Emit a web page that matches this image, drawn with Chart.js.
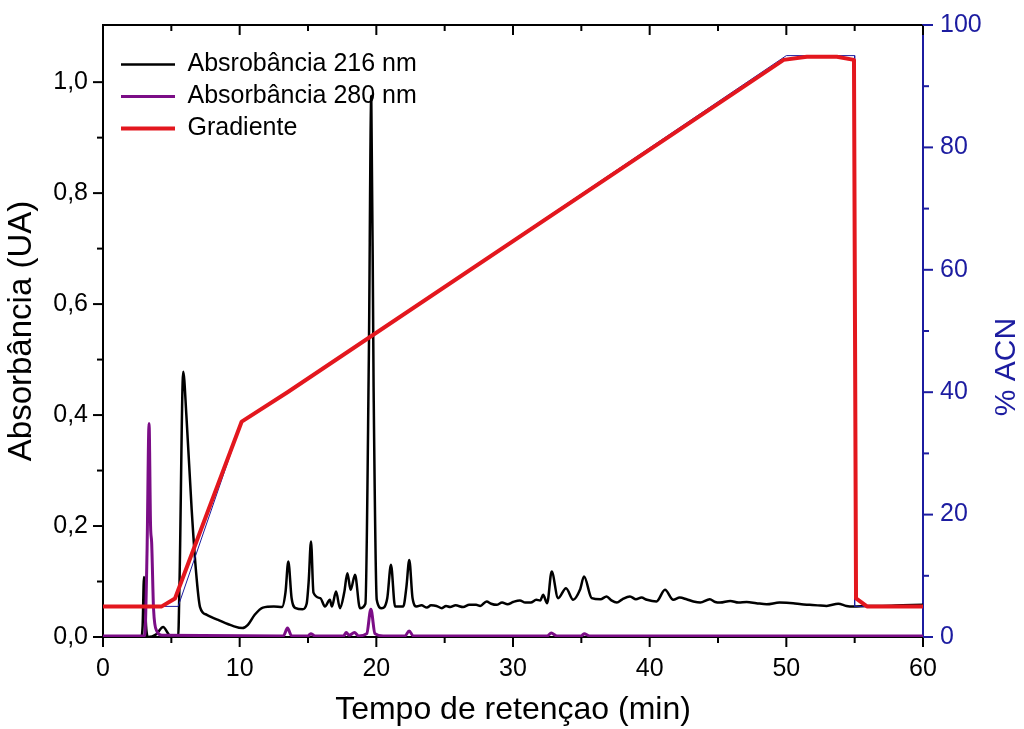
<!DOCTYPE html>
<html lang="pt">
<head>
<meta charset="utf-8">
<title>Cromatograma</title>
<script src="https://cdn.jsdelivr.net/npm/chart.js@4.4.1/dist/chart.umd.min.js"></script>
<style>
  html, body { margin: 0; padding: 0; background: #fff; }
  #chartBox { width: 1024px; height: 729px; }
</style>
</head>
<body>
<div id="chartBox"><canvas id="hplcChart" width="1024" height="729"></canvas></div>
<script>
// Values
const time216 = [0, 2.8, 2.9, 3.0, 3.15, 3.3, 3.9, 4.4, 4.8, 5.0, 5.5, 5.6, 5.87, 6.1, 6.49, 6.8, 7.1, 7.6, 8.5, 9.5,
  10.2, 10.6, 11.1, 11.7, 12.5, 13.1, 13.35, 13.56, 13.8, 14.1, 14.6, 14.9, 15.05, 15.22, 15.4, 15.9, 16.24, 16.6, 16.75,
  17.05, 17.34, 17.65, 17.88, 18.12, 18.44, 18.8, 19.2, 19.45, 19.63, 19.8, 20.03, 20.39, 20.8, 21.07, 21.37, 21.97,
  22.2, 22.41, 22.65, 22.95, 23.3, 23.7, 24.0, 24.4, 24.8, 25.1, 25.4, 25.8, 26.35, 26.8, 27.3, 27.6, 28.07, 28.4, 28.8,
  29.2, 29.6, 30.0, 30.5, 30.9, 31.3, 31.7, 32.0, 32.2, 32.5, 32.83,
  33.3, 33.88, 34.4, 34.9, 35.2, 35.76, 36.4, 36.85, 37.2, 37.6, 38.0, 38.56, 39.0, 39.4, 39.8, 40.5, 41.12, 41.73, 42.2,
  42.7, 43.2, 43.7, 44.4, 44.8, 45.15, 45.9, 46.5, 47.1, 47.8, 48.56, 49.5, 50.5, 51.1, 51.7, 52.3, 52.95, 53.8, 54.4,
  54.9, 56, 57, 58.5, 60];
const abs216 = [0, 0, 0.02, 0.108, 0.02, 0, 0.005, 0.018, 0.005, 0, 0, 0.1, 0.478, 0.40, 0.229, 0.12, 0.054, 0.04, 0.03, 0.02,
  0.016, 0.022, 0.04, 0.053, 0.055, 0.054, 0.08, 0.136, 0.07, 0.052, 0.05, 0.06, 0.10, 0.172, 0.08, 0.07, 0.055, 0.067, 0.055,
  0.082, 0.052, 0.08, 0.115, 0.085, 0.112, 0.052, 0.06, 0.5, 0.975, 0.45, 0.067, 0.052, 0.07, 0.13, 0.055, 0.055,
  0.09, 0.139, 0.07, 0.055, 0.057, 0.053, 0.057, 0.056, 0.052, 0.056, 0.054, 0.057, 0.054, 0.058, 0.058, 0.056, 0.064, 0.06, 0.058,
  0.062, 0.059, 0.063, 0.066, 0.062, 0.062, 0.067, 0.066, 0.076, 0.061, 0.118,
  0.07, 0.088, 0.067, 0.085, 0.109, 0.07, 0.068, 0.073, 0.066, 0.062, 0.068, 0.073, 0.068, 0.071, 0.067, 0.064, 0.085, 0.067, 0.071,
  0.068, 0.064, 0.062, 0.068, 0.063, 0.062, 0.065, 0.062, 0.063, 0.061, 0.059, 0.062, 0.061, 0.059, 0.058, 0.057, 0.056, 0.06, 0.056,
  0.055, 0.056, 0.056, 0.057, 0.058];

const time280 = [0, 3.05, 3.22, 3.37, 3.48, 3.56, 3.7, 3.95, 4.3, 13.2, 13.5, 13.8, 15.0, 15.2, 15.5, 17.6, 17.8, 18.0,
  18.4, 18.7, 19.3, 19.6, 19.9, 20.5, 22.1, 22.4, 22.7, 32.5, 32.8, 33.2, 35.0, 35.2, 35.6, 60];
const abs280 = [0.002, 0.002, 0.15, 0.385, 0.2, 0.17, 0.05, 0.01, 0.003, 0.002, 0.016, 0.002, 0.002, 0.006, 0.002, 0.002, 0.008, 0.003,
  0.008, 0.002, 0.006, 0.05, 0.006, 0.002, 0.002, 0.011, 0.002, 0.002, 0.007, 0.002, 0.002, 0.006, 0.002, 0.002];

const timeGrad = [0, 4.3, 5.27, 10.15, 13.5, 49.8, 51.5, 53.7, 54.95, 55.1, 55.9, 60];
const acnGrad = [5, 5, 6.3, 35.2, 40, 94.3, 94.8, 94.8, 94.3, 6.3, 5, 5];

// programmed gradient, mostly hidden under the red trace
const timeProg = [0, 5.5, 10.15, 13.5, 50, 55, 55, 60];
const acnProg = [5, 5, 35.2, 40, 95, 95, 5, 5];

const xTickLabels = [0, 10, 20, 30, 40, 50, 60];
const absTickLabels = [0, 0.2, 0.4, 0.6, 0.8, 1.0];
const acnTickLabels = [0, 20, 40, 60, 80, 100];

const FONT = "'Liberation Sans', Arial, sans-serif";
const ACN_BLUE = '#1c1ca0';

const toPoints = (xs, ys) => xs.map((x, i) => ({ x: x, y: ys[i] }));
const midpoints = arr => arr.slice(1).map((v, i) => (v + arr[i]) / 2);
const fixedTicks = values => scale => { scale.ticks = values.map(v => ({ value: v })); };

// ticks (major + minor) and the right-hand title, Origin style
const axisDecor = {
    id: 'axisDecor',
    afterLayout(chart) {
        // move the legend into the upper-left corner
        chart.legend.left += 11;
        chart.legend.top += 45;
    },
    afterDraw(chart) {
        const { ctx, chartArea: area, scales } = chart;
        const line = (x1, y1, x2, y2) => {
            ctx.beginPath();
            ctx.moveTo(x1, y1);
            ctx.lineTo(x2, y2);
            ctx.stroke();
        };
        ctx.save();
        ctx.lineWidth = 2;
        ctx.strokeStyle = '#000';
        xTickLabels.forEach(v => {
            const px = scales.x.getPixelForValue(v);
            line(px, area.bottom, px, area.bottom + 10);
            line(px, area.top, px, area.top + 10);
        });
        midpoints(xTickLabels).forEach(v => {
            const px = scales.x.getPixelForValue(v);
            line(px, area.bottom, px, area.bottom + 6);
            line(px, area.top, px, area.top + 6);
        });
        absTickLabels.forEach(v => {
            const py = scales.y.getPixelForValue(v);
            line(area.left - 10, py, area.left, py);
        });
        midpoints(absTickLabels).forEach(v => {
            const py = scales.y.getPixelForValue(v);
            line(area.left - 6, py, area.left, py);
        });
        ctx.strokeStyle = ACN_BLUE;
        acnTickLabels.forEach(v => {
            const py = scales.y1.getPixelForValue(v);
            line(area.right, py, area.right + 10, py);
        });
        midpoints(acnTickLabels).forEach(v => {
            const py = scales.y1.getPixelForValue(v);
            line(area.right, py, area.right + 6, py);
        });

        ctx.translate(area.right + 84, (area.top + area.bottom) / 2 + 36);
        ctx.rotate(-Math.PI / 2);
        ctx.fillStyle = ACN_BLUE;
        ctx.font = '30px ' + FONT;
        ctx.textAlign = 'center';
        ctx.textBaseline = 'middle';
        ctx.fillText('% ACN', 0, 0);
        ctx.restore();
    }
};

function createChart() {
    const ctx = document.getElementById('hplcChart').getContext('2d');
    return new Chart(ctx, {
        type: 'line',
        data: {
            datasets: [
                {
                    label: 'Gradiente',
                    data: toPoints(timeGrad, acnGrad),
                    yAxisID: 'y1',
                    borderColor: '#e3171e',
                    borderWidth: 4,
                    borderJoinStyle: 'round',
                    pointRadius: 0,
                    tension: 0
                },
                {
                    label: 'programa',
                    data: toPoints(timeProg, acnProg),
                    yAxisID: 'y1',
                    borderColor: ACN_BLUE,
                    borderWidth: 1,
                    pointRadius: 0,
                    tension: 0
                },
                {
                    label: 'Absorbância 280 nm',
                    data: toPoints(time280, abs280),
                    yAxisID: 'y',
                    borderColor: '#7b0d86',
                    borderWidth: 3,
                    pointRadius: 0,
                    cubicInterpolationMode: 'monotone'
                },
                {
                    label: 'Absrobância 216 nm',
                    data: toPoints(time216, abs216),
                    yAxisID: 'y',
                    borderColor: '#000',
                    borderWidth: 2.5,
                    pointRadius: 0,
                    cubicInterpolationMode: 'monotone'
                }
            ]
        },
        options: {
            responsive: false,
            animation: false,
            devicePixelRatio: 1,
            layout: { padding: 0 },
            plugins: {
                tooltip: { enabled: false },
                legend: {
                    position: 'chartArea',
                    align: 'start',
                    labels: {
                        usePointStyle: true,
                        pointStyle: 'line',
                        pointStyleWidth: 54,
                        padding: 7,
                        color: '#000',
                        font: { family: FONT, size: 25 },
                        filter: item => item.text !== 'programa',
                        sort: (a, b) => b.datasetIndex - a.datasetIndex
                    }
                }
            },
            scales: {
                x: {
                    type: 'linear',
                    position: 'bottom',
                    min: 0,
                    max: 60,
                    afterBuildTicks: fixedTicks(xTickLabels),
                    afterFit: s => { s.height = 92; },
                    grid: { display: false },
                    border: { display: true, color: '#000', width: 2 },
                    ticks: { color: '#000', padding: 9, maxRotation: 0, font: { family: FONT, size: 25 } },
                    title: {
                        display: true,
                        text: 'Tempo de retençao (min)',
                        color: '#000',
                        font: { family: FONT, size: 32 },
                        padding: { top: 0, bottom: 0 }
                    }
                },
                xTop: {
                    type: 'linear',
                    position: 'top',
                    min: 0,
                    max: 60,
                    afterFit: s => { s.height = 25; },
                    grid: { display: false },
                    border: { display: true, color: '#000', width: 2 },
                    ticks: { display: false }
                },
                y: {
                    type: 'linear',
                    position: 'left',
                    min: 0,
                    max: 1.103,
                    afterBuildTicks: fixedTicks(absTickLabels),
                    afterFit: s => { s.width = 103; },
                    grid: { display: false },
                    border: { display: true, color: '#000', width: 2 },
                    ticks: {
                        color: '#000',
                        padding: 7,
                        font: { family: FONT, size: 25 },
                        callback: v => v.toFixed(1).replace('.', ',')
                    },
                    title: {
                        display: true,
                        text: 'Absorbância (UA)',
                        color: '#000',
                        font: { family: FONT, size: 33 },
                        padding: { top: 2, bottom: 2 }
                    }
                },
                y1: {
                    type: 'linear',
                    position: 'right',
                    min: 0,
                    max: 100,
                    afterBuildTicks: fixedTicks(acnTickLabels),
                    afterFit: s => { s.width = 101; },
                    grid: { display: false },
                    border: { display: true, color: ACN_BLUE, width: 2 },
                    ticks: { color: ACN_BLUE, padding: 9, font: { family: FONT, size: 25 } }
                }
            }
        },
        plugins: [axisDecor]
    });
}

if (document.readyState === 'loading') {
    document.addEventListener('DOMContentLoaded', createChart);
} else {
    createChart();
}
</script>
</body>
</html>
